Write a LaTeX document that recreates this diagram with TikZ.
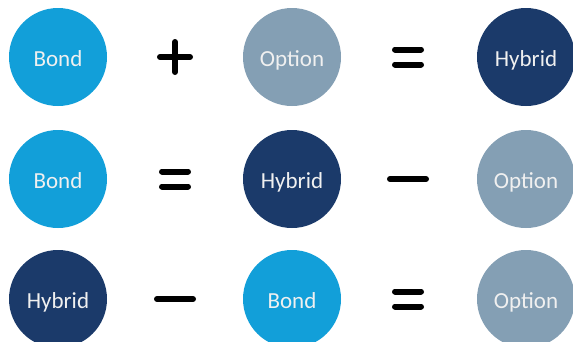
\documentclass[tikz,border=0pt]{standalone}
\usepackage{fontspec}
\setmainfont{Carlito}
\definecolor{bondblue}{HTML}{129FD9}
\definecolor{optiongrey}{HTML}{849FB4}
\definecolor{hybridnavy}{HTML}{1B3A6A}
\newcommand*{\BallSize}{98pt}
\newcommand*{\PlusSign}[1]{% #1 = centre
  \draw[opline] ($(#1)+(-15,0)$) -- ($(#1)+(15,0)$);
  \draw[opline] ($(#1)+(0,-15)$) -- ($(#1)+(0,15)$);
}
\newcommand*{\MinusSign}[1]{% #1 = centre
  \draw[opline] ($(#1)+(-18,0)$) -- ($(#1)+(18,0)$);
}
\newcommand*{\EqualsSign}[1]{% #1 = centre
  \draw[opline] ($(#1)+(-13,-7.5)$) -- ($(#1)+(13,-7.5)$);
  \draw[opline] ($(#1)+(-13,7.5)$) -- ($(#1)+(13,7.5)$);
}
\usetikzlibrary{calc}
\tikzset{
  ball/.style={circle, draw=none, minimum size=\BallSize, inner sep=0pt,
    text=white!94!black, font=\fontsize{23}{23}\selectfont,
    text height=19pt, text depth=0pt},
  bond/.style={ball, fill=bondblue},
  option/.style={ball, fill=optiongrey},
  hybrid/.style={ball, fill=hybridnavy},
  opline/.style={line width=6pt, line cap=round}
}

\begin{document}
\begin{tikzpicture}[x=1pt,y=-1pt]
        \useasboundingbox (0,0) rectangle (573,341);
        % row 1: bond + option = hybrid
        \node[bond]   (bondA)   at (58,57)  {Bond};
        \node[option] (optionA) at (292,57) {Option};
        \node[hybrid] (hybridA) at (526,57) {Hybrid};
        \PlusSign{175,57}
        \EqualsSign{408,57}
        % row 2: bond = hybrid - option
        \node[bond]   (bondB)   at (58,179)  {Bond};
        \node[hybrid] (hybridB) at (292,179) {Hybrid};
        \node[option] (optionB) at (526,179) {Option};
        \EqualsSign{175,179}
        \MinusSign{408,179}
        % row 3: hybrid - bond = option
        \node[hybrid] (hybridC) at (58,299)  {Hybrid};
        \node[bond]   (bondC)   at (292,299) {Bond};
        \node[option] (optionC) at (526,299) {Option};
        \MinusSign{175,299}
        \EqualsSign{408,299}
    \end{tikzpicture}
\end{document}
